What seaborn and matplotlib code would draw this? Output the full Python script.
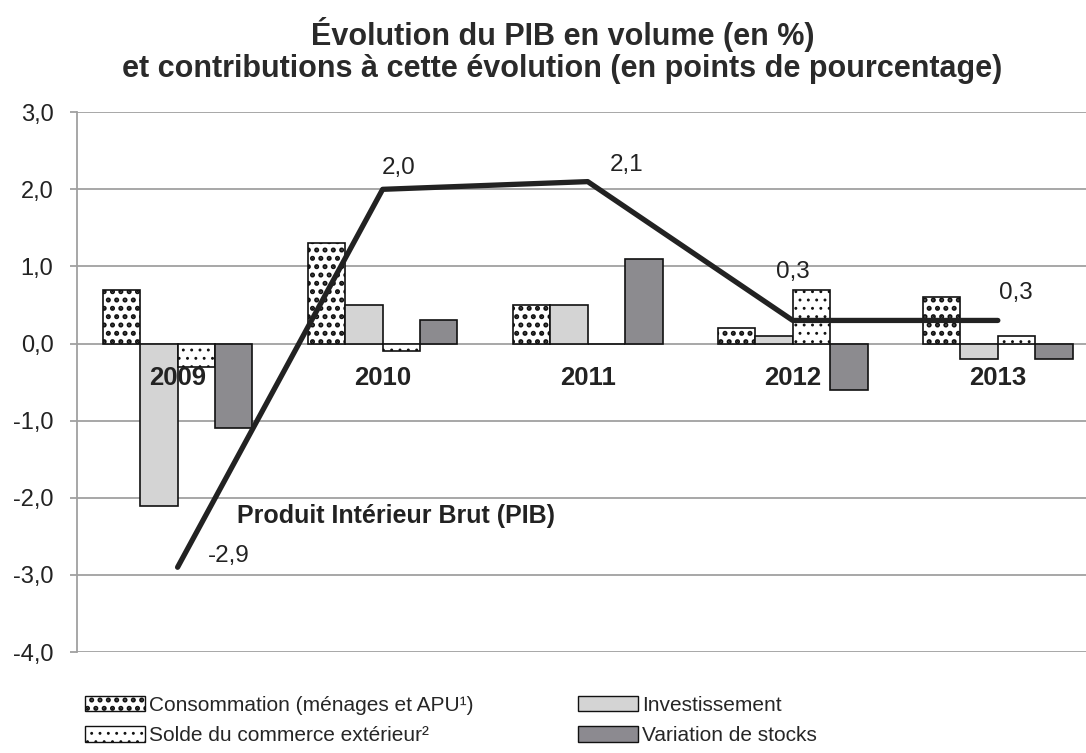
import pandas as pd
import numpy as np
import seaborn as sns
import matplotlib.pyplot as plt
from matplotlib.patches import Patch
from matplotlib import font_manager

# Données
annees = ["2009", "2010", "2011", "2012", "2013"]
consommation = [0.7, 1.3, 0.5, 0.2, 0.6]
investissement = [-2.1, 0.5, 0.5, 0.1, -0.2]
solde_exterieur = [-0.3, -0.1, 0.0, 0.7, 0.1]
stocks = [-1.1, 0.3, 1.1, -0.6, -0.2]
pib = [-2.9, 2.0, 2.1, 0.3, 0.3]
pib_labels = ["-2,9", "2,0", "2,1", "0,3", "0,3"]

composantes = ["Consommation (ménages et APU¹)", "Investissement",
               "Solde du commerce extérieur²", "Variation de stocks"]
couleurs = ["white", "#d4d4d4", "white", "#8c8a90"]
hachures = ["..", "", "..", ""]
hachures_lw = [2.4, 0, 0.9, 0]

df = pd.DataFrame({
    "annee": annees * 4,
    "composante": np.repeat(composantes, len(annees)),
    "valeur": consommation + investissement + solde_exterieur + stocks,
})

sns.set_style("white")
plt.rcParams['font.family'] = ['Liberation Sans', 'DejaVu Sans']
plt.rcParams['hatch.linewidth'] = 1.5

# police étroite pour la légende si elle existe
noms = {f.name for f in font_manager.fontManager.ttflist}
police_legende = 'Liberation Sans Narrow' if 'Liberation Sans Narrow' in noms else 'Liberation Sans'
taille_legende = 17.5 if police_legende == 'Liberation Sans Narrow' else 15

fig = plt.figure(figsize=(10.86, 7.53), dpi=100)
ax = fig.add_axes([0.071, 0.134, 0.929, 0.717])

sns.barplot(data=df, x="annee", y="valeur", hue="composante", hue_order=composantes,
            palette=couleurs, edgecolor="#111111", linewidth=1.2, width=0.73,
            legend=False, ax=ax, zorder=3)

def poser_hachure(p, h, lw):
    p.set_hatch(h)
    if h and hasattr(p, "set_hatch_linewidth"):
        p.set_hatch_linewidth(lw)

for cont, h, lw in zip(ax.containers, hachures, hachures_lw):
    for bar in cont:
        poser_hachure(bar, h, lw)

# Courbe du PIB
sns.lineplot(x=np.arange(len(annees)), y=pib, color="#222222", linewidth=3.8,
             ax=ax, zorder=5)

# positions des étiquettes (décalages en unités de données)
offsets = [(0.25, 0.14), (0.08, 0.28), (0.19, 0.22), (0.0, 0.63), (0.09, 0.36)]
for i, (lab, (dx, dy)) in enumerate(zip(pib_labels, offsets)):
    ax.text(i + dx, pib[i] + dy, lab, fontsize=17.5, color="#222222",
            ha="center", va="center", zorder=6)

ax.text(0.29, -2.24, "Produit Intérieur Brut (PIB)", fontsize=18,
        fontweight="bold", color="#222222", va="center", zorder=6)

# Années dans la zone du graphique
for i, a in enumerate(annees):
    ax.text(i, -0.45, a, fontsize=18.5, fontweight="bold", color="#222222",
            ha="center", va="center", zorder=6)

ax.set_xlim(-0.49, 4.43)
ax.set_ylim(-4, 3)
ax.set_yticks(np.arange(-4, 4, 1))
ax.set_yticklabels([f"{v:.1f}".replace(".", ",") for v in np.arange(-4, 4, 1)],
                   fontsize=17, color="#222222")
ax.set_xticks([])
ax.set_xlabel("")
ax.set_ylabel("")
ax.grid(axis="y", color="#a0a0a0", linewidth=1.3, zorder=0)
ax.set_axisbelow(True)
for s in ["top", "right", "bottom"]:
    ax.spines[s].set_visible(False)
ax.spines["left"].set_color("#a0a0a0")
ax.spines["left"].set_linewidth(1.3)
ax.tick_params(axis="y", length=5, width=1.3, color="#a0a0a0", left=True, pad=12)

fig.text(0.518, 0.933, "Évolution du PIB en volume (en %)\n"
         "et contributions à cette évolution (en points de pourcentage)",
         fontsize=22, fontweight="bold", color="#2a2a2a", ha="center", va="center",
         linespacing=1.1)

# Légende en deux colonnes placées séparément
handles = []
for c, h, lw in zip(couleurs, hachures, hachures_lw):
    p = Patch(facecolor=c, edgecolor="#111111")
    poser_hachure(p, h, lw)
    handles.append(p)

for cols, x0 in [([0, 2], 0.078), ([1, 3], 0.532)]:
    leg = fig.legend([handles[i] for i in cols], [composantes[i] for i in cols],
                     loc="center left", bbox_to_anchor=(x0, 0.043), frameon=False,
                     borderpad=0, borderaxespad=0,
                     prop={"family": police_legende, "size": taille_legende},
                     handlelength=2.9, handleheight=0.75, handletextpad=0.2,
                     labelspacing=0.55)
    for lp, i in zip(leg.get_patches(), cols):
        poser_hachure(lp, hachures[i], hachures_lw[i])

fig.savefig("out.png", dpi=100)
